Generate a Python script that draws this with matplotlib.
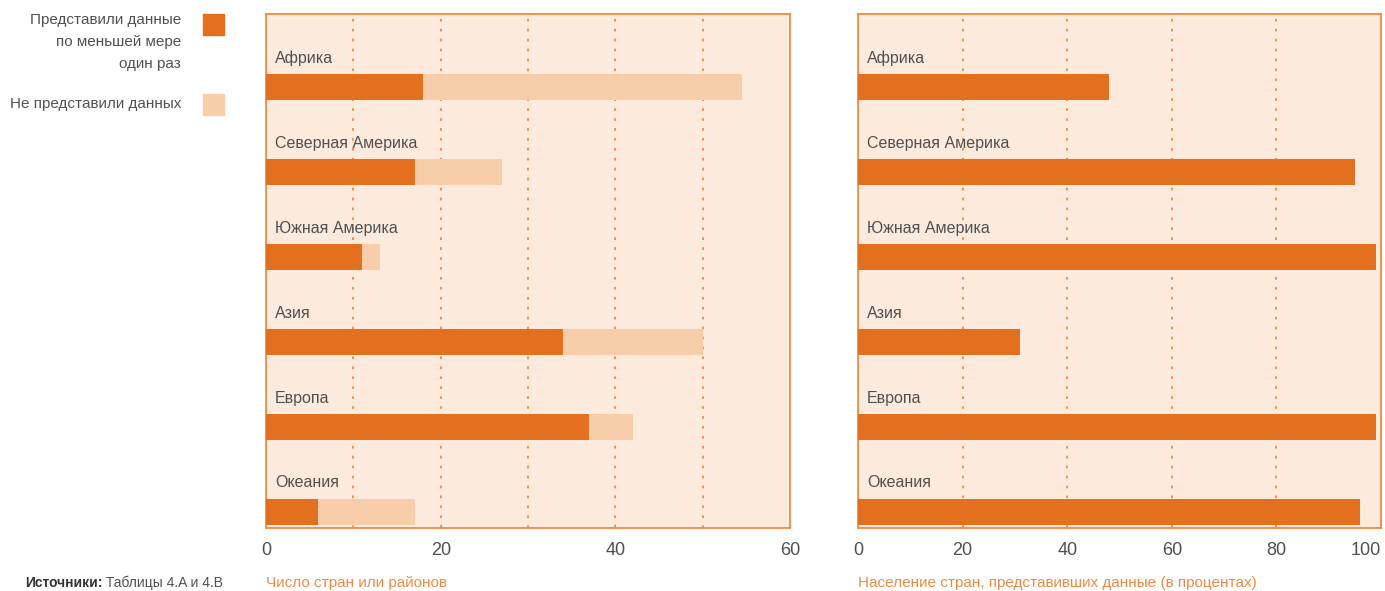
import matplotlib.pyplot as plt
from matplotlib.patches import Rectangle

plt.rcParams['font.family'] = ['Liberation Sans', 'DejaVu Sans']

# Данные
regions = ['Африка', 'Северная Америка', 'Южная Америка', 'Азия', 'Европа', 'Океания']
reported = [18, 17, 11, 34, 37, 6]
total = [54.5, 27, 13, 50, 42, 17]
population_pct = [48, 95, 99, 31, 99, 96]

left_ticks = [0, 20, 40, 60]
right_ticks = [0, 20, 40, 60, 80, 100]

dark = '#E3701E'
light = '#F8CDAA'
bg = '#FCEBDD'
edge = '#EE8A45'
txt = '#505050'

fig = plt.figure(figsize=(13.85, 5.91), dpi=100)
ax1 = fig.add_axes([0.1921, 0.1066, 0.3783, 0.8697])
ax2 = fig.add_axes([0.6195, 0.1066, 0.3776, 0.8697])

ypos = list(range(len(regions) - 1, -1, -1))
not_reported = [t - r for t, r in zip(total, reported)]

# Левый график
ax1.barh(ypos, reported, height=0.31, color=dark, zorder=3)
ax1.barh(ypos, not_reported, left=reported, height=0.31, color=light, zorder=3)
ax1.set_xlim(0, 60)
ax1.set_xticks(left_ticks)
for g in [10, 20, 30, 40, 50]:
    ax1.axvline(g, color=edge, linestyle=(0, (1.5, 4)), linewidth=1.3, zorder=1)

# Правый график
ax2.barh(ypos, population_pct, height=0.31, color=dark, zorder=3)
ax2.set_xlim(0, 100)
ax2.set_xticks(right_ticks)
for g in [20, 40, 60, 80]:
    ax2.axvline(g, color=edge, linestyle=(0, (1.5, 4)), linewidth=1.3, zorder=1)

for ax in (ax1, ax2):
    ax.set_facecolor(bg)
    ax.set_ylim(-0.19, 5.86)
    ax.set_yticks([])
    for s in ax.spines.values():
        s.set_color(edge)
        s.set_linewidth(1.3)
    ax.tick_params(axis='x', direction='in', length=3, color=edge,
                   labelcolor=txt, labelsize=13, pad=10)
    for y, name in zip(ypos, regions):
        ax.text(0.017, y + 0.34, name, transform=ax.get_yaxis_transform(),
                fontsize=11.5, color=txt, va='center', ha='left')

ax2.get_xticklabels()[-1].set_horizontalalignment('right')

ax1.set_xlabel('Число стран или районов', color=edge, fontsize=11,
               loc='left', labelpad=12)
ax2.set_xlabel('Население стран, представивших данные (в процентах)',
               color=edge, fontsize=11, loc='left', labelpad=12)

# Легенда
fig.text(181 / 1385, 1 - 42 / 591, 'Представили данные\nпо меньшей мере\nодин раз',
         ha='right', va='center', fontsize=11, color=txt, linespacing=1.75)
fig.text(181 / 1385, 1 - 104 / 591, 'Не представили данных',
         ha='right', va='center', fontsize=11, color=txt)
fig.patches.append(Rectangle((203 / 1385, 1 - 35 / 591), 21 / 1385, 21 / 591,
                             transform=fig.transFigure, color=dark))
fig.patches.append(Rectangle((203 / 1385, 1 - 115 / 591), 21 / 1385, 21 / 591,
                             transform=fig.transFigure, color=light))

# Источники
src = fig.text(25 / 1385, 1 - 583 / 591, 'Источники:', fontsize=10,
               color='#333333', va='center', fontweight='bold')
ax1.annotate(' Таблицы 4.A и 4.B', xy=(1, 0.5), xycoords=src, fontsize=10,
             color=txt, va='center', ha='left', annotation_clip=False)

fig.savefig('out.png', dpi=100)
